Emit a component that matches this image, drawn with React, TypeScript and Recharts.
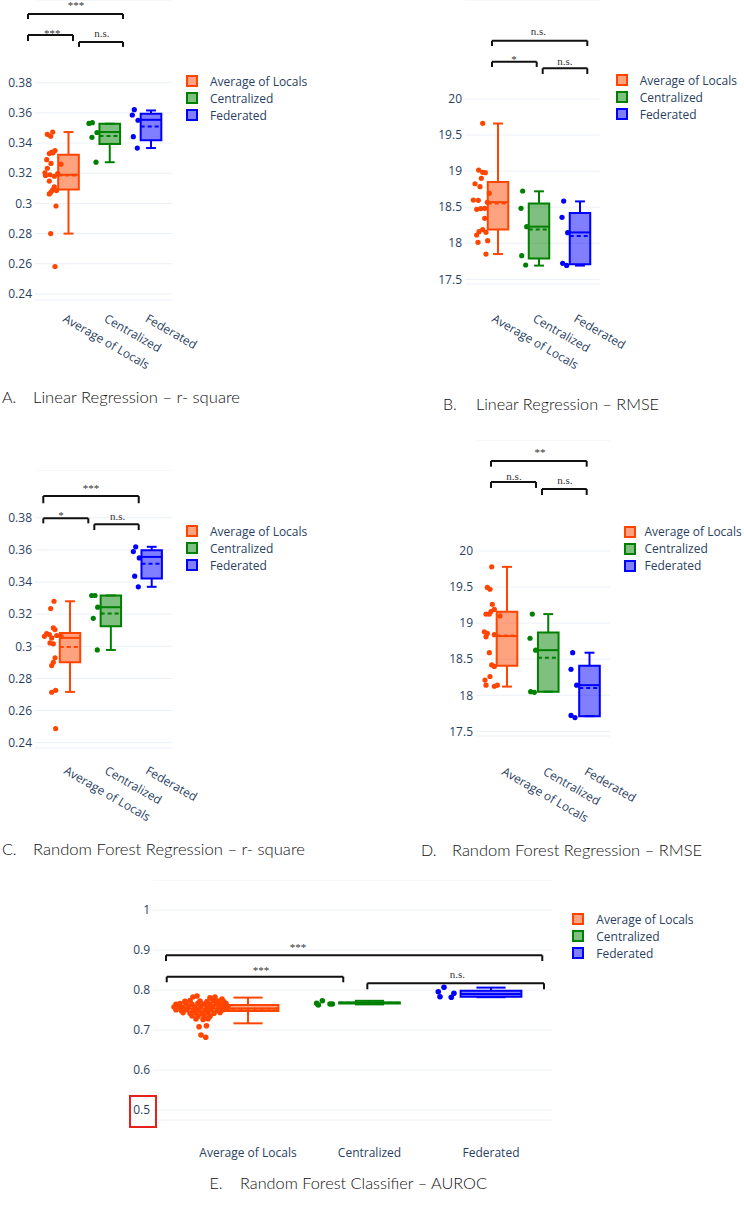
import React from 'react';
import {
  ComposedChart,
  Scatter,
  XAxis,
  YAxis,
  CartesianGrid,
  ReferenceArea,
  ReferenceLine,
  ReferenceDot,
  Legend,
} from 'recharts';

const FONT = "'Open Sans', 'DejaVu Sans', sans-serif";
const SERIF = "'Liberation Serif', 'DejaVu Serif', serif";
const CAPTION_FONT = "Lato, 'Open Sans', sans-serif";
const TEXT_COLOR = '#2a3f5f';
const GRID_COLOR = '#ebf0f8';

const CATEGORIES = ['Average of Locals', 'Centralized', 'Federated'];
const COLORS = ['#ff4500', '#008000', '#0000ff'];
const FILLS = ['rgba(255,69,0,0.5)', 'rgba(0,128,0,0.5)', 'rgba(0,0,255,0.5)'];

// box stats: [min, q1, median, mean, q3, max]
// points: [jitter (category units), value]
// brackets: [x1, x2, y, yTip, label, labelX, labelY]

// ---------- A. Linear Regression – r-square
const A_TICKS = [0.24, 0.26, 0.28, 0.3, 0.32, 0.34, 0.36, 0.38];
const A_AVG_BOX = [0.28, 0.3092, 0.319, 0.3185, 0.3323, 0.3473];
const A_CEN_BOX = [0.3273, 0.3393, 0.3473, 0.3446, 0.3528, 0.3528];
const A_FED_BOX = [0.3367, 0.3418, 0.3554, 0.351, 0.3594, 0.3616];
const A_AVG_PTS = [
  [-0.383, 0.3473], [-0.514, 0.3458], [-0.432, 0.3445], [-0.327, 0.335], [-0.407, 0.334],
  [-0.465, 0.333], [-0.376, 0.3335], [-0.528, 0.329], [-0.424, 0.3265], [-0.182, 0.326],
  [-0.514, 0.3233], [-0.57, 0.3203], [-0.448, 0.319], [-0.262, 0.3197], [-0.344, 0.318],
  [-0.558, 0.3185], [-0.465, 0.3148], [-0.344, 0.311], [-0.383, 0.309], [-0.29, 0.3085],
  [-0.424, 0.3075], [-0.465, 0.3063], [-0.303, 0.2983], [-0.432, 0.28], [-0.327, 0.2582],
];
const A_CEN_PTS = [[-0.504, 0.353], [-0.422, 0.3535], [-0.431, 0.3438], [-0.31, 0.347], [-0.333, 0.3273]];
const A_FED_PTS = [[-0.405, 0.3621], [-0.453, 0.3586], [-0.315, 0.3551], [-0.429, 0.3442], [-0.332, 0.3367]];
const A_BRACKETS = [
  [-0.982, 1.321, 0.4255, 0.4222, '***', 0.182, 0.4291],
  [-0.982, 0.109, 0.4116, 0.4076, '***', -0.393, 0.4105],
  [0.255, 1.321, 0.407, 0.4037, 'n.s.', 0.812, 0.4105],
];

// ---------- B. Linear Regression – RMSE
const B_TICKS = [17.5, 18, 18.5, 19, 19.5, 20];
const B_AVG_BOX = [17.85, 18.19, 18.57, 18.55, 18.85, 19.66];
const B_CEN_BOX = [17.69, 17.79, 18.23, 18.19, 18.55, 18.72];
const B_FED_BOX = [17.69, 17.71, 18.15, 18.1, 18.42, 18.58];
const B_AVG_PTS = [
  [-0.373, 19.663], [-0.471, 19.015], [-0.373, 18.983], [-0.309, 18.978], [-0.407, 18.9],
  [-0.561, 18.825], [-0.439, 18.784], [-0.212, 18.692], [-0.602, 18.599], [-0.48, 18.595],
  [-0.26, 18.567], [-0.52, 18.47], [-0.423, 18.48], [-0.325, 18.484], [-0.325, 18.345],
  [-0.373, 18.19], [-0.463, 18.16], [-0.52, 18.114], [-0.293, 18.151], [-0.488, 18.012],
  [-0.252, 18.035], [-0.293, 17.85],
];
const B_CEN_PTS = [[-0.398, 18.724], [-0.439, 18.484], [-0.3, 18.229], [-0.422, 17.827], [-0.325, 17.698]];
const B_FED_PTS = [[-0.398, 18.585], [-0.439, 18.359], [-0.3, 18.146], [-0.422, 17.721], [-0.325, 17.693]];
const B_BRACKETS = [
  [-0.146, 2.178, 20.809, 20.735, 'n.s.', 0.983, 20.888],
  [-0.146, 0.944, 20.517, 20.444, '*', 0.39, 20.505],
  [1.09, 2.178, 20.426, 20.347, 'n.s.', 1.634, 20.472],
];

// ---------- C. Random Forest Regression – r-square
const C_TICKS = [0.24, 0.26, 0.28, 0.3, 0.32, 0.34, 0.36, 0.38];
const C_AVG_BOX = [0.2716, 0.29, 0.3052, 0.2996, 0.3083, 0.328];
const C_CEN_BOX = [0.2977, 0.3125, 0.3243, 0.3204, 0.3316, 0.3316];
const C_FED_BOX = [0.337, 0.3421, 0.3556, 0.3513, 0.3597, 0.3619];
const C_AVG_PTS = [
  [-0.392, 0.328], [-0.473, 0.3235], [-0.408, 0.3114], [-0.367, 0.3104], [-0.571, 0.3079],
  [-0.628, 0.3062], [-0.506, 0.3073], [-0.326, 0.3067], [-0.449, 0.3052], [-0.22, 0.3062],
  [-0.49, 0.3021], [-0.408, 0.3015], [-0.367, 0.2928], [-0.408, 0.29], [-0.449, 0.288],
  [-0.351, 0.2726], [-0.449, 0.2714], [-0.351, 0.2488],
];
const C_CEN_PTS = [[-0.469, 0.3316], [-0.388, 0.3316], [-0.322, 0.3243], [-0.43, 0.3174], [-0.332, 0.2977]];
const C_FED_PTS = [[-0.392, 0.3619], [-0.45, 0.3589], [-0.304, 0.355], [-0.416, 0.3436], [-0.328, 0.337]];
const C_BRACKETS = [
  [-0.654, 1.682, 0.3935, 0.389, '***', 0.514, 0.3962],
  [-0.654, 0.448, 0.3796, 0.3765, '*', -0.22, 0.379],
  [0.595, 1.682, 0.3759, 0.3723, 'n.s.', 1.167, 0.3786],
];

// ---------- D. Random Forest Regression – RMSE
const D_TICKS = [17.5, 18, 18.5, 19, 19.5, 20];
const D_AVG_BOX = [18.12, 18.41, 18.82, 18.83, 19.157, 19.78];
const D_CEN_BOX = [18.05, 18.05, 18.625, 18.52, 18.87, 19.125];
const D_FED_BOX = [17.71, 17.71, 18.14, 18.1, 18.41, 18.59];
const D_AVG_PTS = [
  [-0.371, 19.78], [-0.477, 19.495], [-0.412, 19.47], [-0.356, 19.26], [-0.307, 19.19],
  [-0.509, 19.125], [-0.428, 19.125], [-0.388, 19.16], [-0.17, 19.1], [-0.55, 18.88],
  [-0.477, 18.857], [-0.509, 18.81], [-0.307, 18.84], [-0.428, 18.59], [-0.371, 18.42],
  [-0.307, 18.4], [-0.412, 18.26], [-0.533, 18.21], [-0.509, 18.14], [-0.307, 18.125],
  [-0.235, 18.14],
];
const D_CEN_PTS = [[-0.386, 19.125], [-0.442, 18.79], [-0.305, 18.625], [-0.426, 18.05], [-0.337, 18.04]];
const D_FED_PTS = [[-0.408, 18.59], [-0.448, 18.36], [-0.311, 18.14], [-0.448, 17.72], [-0.352, 17.69]];
const D_BRACKETS = [
  [-0.388, 1.932, 21.248, 21.169, '**', 0.8, 21.323],
  [-0.388, 0.703, 20.957, 20.874, 'n.s.', 0.17, 20.984],
  [0.848, 1.932, 20.86, 20.776, 'n.s.', 1.406, 20.925],
];

// ---------- E. Random Forest Classifier – AUROC
const E_TICKS = [0.5, 0.6, 0.7, 0.8, 0.9, 1];
const E_AVG_BOX = [0.7167, 0.7475, 0.754, 0.753, 0.7625, 0.781];
const E_CEN_BOX = [0.764, 0.7665, 0.768, 0.768, 0.769, 0.773];
const E_FED_BOX = [0.782, 0.783, 0.79, 0.79, 0.798, 0.806];
const E_AVG_PTS = [
  [-0.453, 0.7825], [-0.42, 0.785], [-0.313, 0.7805], [-0.272, 0.7825], [-0.214, 0.7775],
  [-0.519, 0.7715], [-0.477, 0.7735], [-0.395, 0.7725], [-0.337, 0.771], [-0.288, 0.774],
  [-0.247, 0.7725], [-0.198, 0.7705],
  [-0.593, 0.7645], [-0.56, 0.766], [-0.51, 0.7655], [-0.461, 0.764], [-0.412, 0.7665],
  [-0.362, 0.765], [-0.313, 0.7635], [-0.263, 0.7655], [-0.222, 0.7645], [-0.181, 0.766],
  [-0.609, 0.7575], [-0.576, 0.7585], [-0.535, 0.7565], [-0.486, 0.758], [-0.436, 0.757],
  [-0.387, 0.7585], [-0.337, 0.7565], [-0.288, 0.758], [-0.239, 0.757], [-0.189, 0.7585],
  [-0.165, 0.7565],
  [-0.593, 0.7505], [-0.551, 0.7495], [-0.502, 0.751], [-0.453, 0.749], [-0.403, 0.7505],
  [-0.354, 0.7495], [-0.305, 0.751], [-0.255, 0.7495], [-0.206, 0.7505],
  [-0.535, 0.7435], [-0.477, 0.742], [-0.428, 0.7435], [-0.379, 0.7415], [-0.329, 0.743],
  [-0.28, 0.742], [-0.23, 0.744],
  [-0.461, 0.7355], [-0.412, 0.7345], [-0.362, 0.736], [-0.313, 0.7345],
  [-0.428, 0.7275], [-0.37, 0.7265], [-0.329, 0.728],
  [-0.403, 0.708], [-0.342, 0.7107], [-0.387, 0.6875], [-0.348, 0.682],
];
const E_CEN_PTS = [[-0.435, 0.7667], [-0.388, 0.7733], [-0.421, 0.7625], [-0.325, 0.765], [-0.306, 0.765]];
const E_FED_PTS = [[-0.434, 0.7958], [-0.387, 0.8067], [-0.42, 0.7833], [-0.305, 0.7917], [-0.327, 0.7817]];
const E_BRACKETS = [
  [-0.675, 2.422, 0.8868, 0.8725, '***', 0.412, 0.8975],
  [-0.669, 0.784, 0.8333, 0.8193, '***', 0.107, 0.84],
  [0.982, 2.436, 0.8168, 0.8018, 'n.s.', 1.723, 0.8293],
];

const BOX_HALF = 0.25;
const CAP_HALF = 0.12;

const PANELS = [
  {
    key: 'A', left: 0, top: 0, width: 330, height: 380, yAxisW: 35, xAxisH: 80, marginRight: 158,
    xDomain: [-0.812, 2.509], yDomain: [0.236, 0.4348], ticks: A_TICKS,
    boxes: [A_AVG_BOX, A_CEN_BOX, A_FED_BOX], points: [A_AVG_PTS, A_CEN_PTS, A_FED_PTS],
    brackets: A_BRACKETS, legend: { left: 186, top: 72.5, gap: 12 },
    label: { mode: 'rot', ox: -6.5, oy: 21 }, r: 2.6,
  },
  {
    key: 'B', left: 420, top: 0, width: 324, height: 380, yAxisW: 45, xAxisH: 96, marginRight: 143.3,
    xDomain: [-0.805, 2.505], yDomain: [17.4348, 21.3727], ticks: B_TICKS,
    boxes: [B_AVG_BOX, B_CEN_BOX, B_FED_BOX], points: [B_AVG_PTS, B_CEN_PTS, B_FED_PTS],
    brackets: B_BRACKETS, legend: { left: 195.7, top: 71.5, gap: 12 },
    label: { mode: 'rot', ox: -7, oy: 37 }, r: 2.6,
  },
  {
    key: 'C', left: 0, top: 470, width: 330, height: 370, yAxisW: 35, xAxisH: 92, marginRight: 158,
    xDomain: [-0.857, 2.497], yDomain: [0.2367, 0.40968], ticks: C_TICKS,
    boxes: [C_AVG_BOX, C_CEN_BOX, C_FED_BOX], points: [C_AVG_PTS, C_CEN_PTS, C_FED_PTS],
    brackets: C_BRACKETS, legend: { left: 186, top: 52.5, gap: 12 },
    label: { mode: 'rot', ox: -7, oy: 25 }, r: 2.6,
  },
  {
    key: 'D', left: 420, top: 440, width: 324, height: 400, yAxisW: 56, xAxisH: 104, marginRight: 134,
    xDomain: [-0.7515, 2.497], yDomain: [17.435, 21.539], ticks: D_TICKS,
    boxes: [D_AVG_BOX, D_CEN_BOX, D_FED_BOX], points: [D_AVG_PTS, D_CEN_PTS, D_FED_PTS],
    brackets: D_BRACKETS, legend: { left: 203.5, top: 83.2, gap: 9 },
    label: { mode: 'rot', ox: -6, oy: 38 }, r: 2.6,
  },
  {
    key: 'E', left: 110, top: 880, width: 634, height: 290, yAxisW: 43, xAxisH: 50, marginRight: 192,
    xDomain: [-0.782, 2.502], yDomain: [0.475, 1.075], ticks: E_TICKS,
    boxes: [E_AVG_BOX, E_CEN_BOX, E_FED_BOX], points: [E_AVG_PTS, E_CEN_PTS, E_FED_PTS],
    brackets: E_BRACKETS, legend: { left: 462.3, top: 30.5, gap: 12 },
    label: { mode: 'flat', ox: 0, oy: 37 }, r: 2.8,
  },
];

const CAPTIONS = [
  { letter: 'A.', text: 'Linear Regression – r- square', lx: 2, tx: 33, y: 403, len: 207 },
  { letter: 'B.', text: 'Linear Regression – RMSE', lx: 443, tx: 476, y: 410, len: 183 },
  { letter: 'C.', text: 'Random Forest Regression – r- square', lx: 2, tx: 33, y: 855, len: 272 },
  { letter: 'D.', text: 'Random Forest Regression – RMSE', lx: 421, tx: 452, y: 856, len: 250 },
  { letter: 'E.', text: 'Random Forest Classifier – AUROC', lx: 209.5, tx: 240, y: 1189, len: 247 },
];

function CatTick(props: any) {
  const { x, y, payload, mode, ox, oy } = props;
  const label = CATEGORIES[Math.round(payload.value)];
  if (mode === 'rot') {
    const px = x + ox;
    const py = y + oy;
    return (
      <text x={px} y={py} transform={`rotate(30 ${px} ${py})`} textAnchor="start"
        fill={TEXT_COLOR} fontSize={12} fontFamily={FONT}>{label}</text>
    );
  }
  return (
    <text x={x + ox} y={y + oy} textAnchor="middle" fill={TEXT_COLOR} fontSize={12} fontFamily={FONT}>{label}</text>
  );
}

function LegendBox({ gap }: any) {
  return (
    <div style={{ fontFamily: FONT, fontSize: 12, color: TEXT_COLOR, lineHeight: '17px' }}>
      {CATEGORIES.map((c, i) => (
        <div key={c} style={{ display: 'flex', alignItems: 'center', height: 17 }}>
          <div style={{ width: 8, height: 8, border: `2px solid ${COLORS[i]}`, background: FILLS[i], marginRight: gap, flex: 'none' }} />
          <span style={{ whiteSpace: 'nowrap' }}>{c}</span>
        </div>
      ))}
    </div>
  );
}

function BoxPanel({ p }: any) {
  const boxEls: any[] = [];
  p.boxes.forEach((b: number[], ci: number) => {
    const [mn, q1, md, mean, q3, mx] = b;
    const c = COLORS[ci];
    const common = { stroke: c, strokeWidth: 2, ifOverflow: 'visible' as const };
    boxEls.push(
      <ReferenceArea key={`area${ci}`} x1={ci - BOX_HALF} x2={ci + BOX_HALF} y1={q1} y2={q3}
        fill={c} fillOpacity={0.5} stroke={c} strokeWidth={2} strokeOpacity={1} ifOverflow="visible" />,
      <ReferenceLine key={`wu${ci}`} segment={[{ x: ci, y: q3 }, { x: ci, y: mx }]} {...common} />,
      <ReferenceLine key={`wl${ci}`} segment={[{ x: ci, y: q1 }, { x: ci, y: mn }]} {...common} />,
      <ReferenceLine key={`cu${ci}`} segment={[{ x: ci - CAP_HALF, y: mx }, { x: ci + CAP_HALF, y: mx }]} {...common} />,
      <ReferenceLine key={`cl${ci}`} segment={[{ x: ci - CAP_HALF, y: mn }, { x: ci + CAP_HALF, y: mn }]} {...common} />,
      <ReferenceLine key={`md${ci}`} segment={[{ x: ci - BOX_HALF, y: md }, { x: ci + BOX_HALF, y: md }]} {...common} />,
      <ReferenceLine key={`mn${ci}`} segment={[{ x: ci - BOX_HALF, y: mean }, { x: ci + BOX_HALF, y: mean }]} {...common} strokeDasharray="4 3" />,
    );
  });

  const bracketEls: any[] = [];
  p.brackets.forEach((br: any[], bi: number) => {
    const [x1, x2, y, yTip, label, lx, ly] = br;
    const common = { stroke: '#111', strokeWidth: 2, ifOverflow: 'visible' as const };
    bracketEls.push(
      <ReferenceLine key={`bh${bi}`} segment={[{ x: x1, y }, { x: x2, y }]} {...common} />,
      <ReferenceLine key={`bl${bi}`} segment={[{ x: x1, y }, { x: x1, y: yTip }]} {...common} />,
      <ReferenceLine key={`br${bi}`} segment={[{ x: x2, y }, { x: x2, y: yTip }]} {...common} />,
      <ReferenceDot key={`bt${bi}`} x={lx} y={ly} r={0} ifOverflow="visible"
        shape={(s: any) => (
          <text x={s.cx} y={s.cy} textAnchor="middle" fontFamily={SERIF} fontSize={11} fill="#333">{label}</text>
        )} />,
    );
  });

  return (
    <div style={{ position: 'absolute', left: p.left, top: p.top, width: p.width, height: p.height }}>
      <ComposedChart width={p.width} height={p.height} margin={{ top: 0, right: p.marginRight, bottom: 0, left: 0 }}>
        <CartesianGrid horizontal vertical={false} stroke={GRID_COLOR} strokeWidth={1} />
        <XAxis type="number" dataKey="x" domain={p.xDomain} allowDataOverflow ticks={[0, 1, 2]} interval={0}
          height={p.xAxisH} axisLine={false} tickLine={false} tickSize={0} tickMargin={0}
          tick={(t: any) => <CatTick {...t} mode={p.label.mode} ox={p.label.ox} oy={p.label.oy} />} />
        <YAxis type="number" dataKey="y" domain={p.yDomain} allowDataOverflow ticks={p.ticks} interval={0}
          width={p.yAxisW} axisLine={false} tickLine={false} tickSize={0} tickMargin={3}
          tick={{ fill: TEXT_COLOR, fontSize: 12, fontFamily: FONT }} />
        {boxEls}
        {p.points.map((pts: number[][], ci: number) => (
          <Scatter key={`s${ci}`} name={CATEGORIES[ci]} isAnimationActive={false}
            data={pts.map(([dx, v]) => ({ x: ci + dx, y: v }))} fill={COLORS[ci]}
            shape={(s: any) => <circle cx={s.cx} cy={s.cy} r={p.r} fill={COLORS[ci]} />} />
        ))}
        {bracketEls}
        <Legend layout="vertical" align="center" verticalAlign="middle"
          wrapperStyle={{ left: p.legend.left, top: p.legend.top, width: 118, height: 51 }}
          content={() => <LegendBox gap={p.legend.gap} />} />
      </ComposedChart>
    </div>
  );
}

export default function App() {
  return (
    <div style={{ position: 'absolute', left: 0, top: 0, width: 744, height: 1210, background: '#fff', overflow: 'hidden' }}>
      {PANELS.map((p) => <BoxPanel key={p.key} p={p} />)}
      <svg width={744} height={1210} style={{ position: 'absolute', left: 0, top: 0, pointerEvents: 'none' }}>
        {CAPTIONS.map((c) => (
          <g key={c.letter} fontFamily={CAPTION_FONT} fontWeight={300} fontSize={16} fill="#111">
            <text x={c.lx} y={c.y}>{c.letter}</text>
            <text x={c.tx} y={c.y} textLength={c.len} lengthAdjust="spacingAndGlyphs">{c.text}</text>
          </g>
        ))}
        <rect x={130} y={1096} width={26} height={31} fill="none" stroke="#e8201c" strokeWidth={2} />
      </svg>
    </div>
  );
}
